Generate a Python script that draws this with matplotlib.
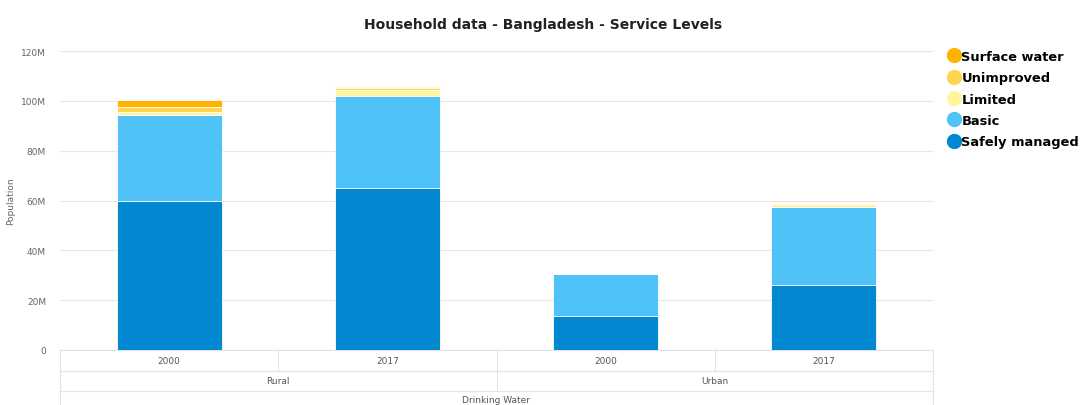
import matplotlib.pyplot as plt
from matplotlib.lines import Line2D

# data (millions of people)
categories = ['2000', '2017', '2000', '2017']
areas = ['Rural', 'Urban']
levels = ['Safely managed', 'Basic', 'Limited', 'Unimproved', 'Surface water']
safely_managed = [59.8, 64.9, 13.5, 26.1]
basic = [34.6, 37.0, 17.0, 31.3]
limited = [1.2, 2.5, 0.0, 1.2]
unimproved = [2.0, 0.8, 0.0, 0.1]
surface_water = [2.6, 0.3, 0.0, 0.0]
colors = ['#0288d1', '#4fc3f7', '#fff59d', '#ffd54f', '#ffb300']

series = [safely_managed, basic, limited, unimproved, surface_water]

fig = plt.figure(figsize=(10.87, 4.06), dpi=100)
ax = fig.add_axes([60 / 1087, 55 / 406, 873 / 1087, 299 / 406])

x = list(range(len(categories)))
bottom = [0.0] * len(categories)
for vals, col in zip(series, colors):
    ax.bar(x, vals, bottom=bottom, width=0.48, color=col, edgecolor='white',
           linewidth=0.6, zorder=3)
    bottom = [b + v for b, v in zip(bottom, vals)]

ax.set_xlim(-0.5, 3.5)
ax.set_ylim(0, 120)
ax.set_yticks([0, 20, 40, 60, 80, 100, 120])
ax.set_yticklabels(['0', '20M', '40M', '60M', '80M', '100M', '120M'],
                   fontsize=6.5, color='#666666')
ax.tick_params(axis='y', length=0, pad=10)
ax.set_xticks([])
ax.grid(axis='y', color='#e6e6e6', linewidth=0.8, zorder=0)
for s in ax.spines.values():
    s.set_visible(False)
ax.set_ylabel('Population', fontsize=6.5, color='#666666')
ax.yaxis.set_label_coords(-45 / 873, 0.5)

# category table below the plot
tr = ax.get_xaxis_transform()
lc = '#dde3f0'
r1, r2, r3 = -0.0702, -0.137, -0.19
for yy in [0, r1, r2]:
    ax.plot([-0.5, 3.5], [yy, yy], transform=tr, color=lc, lw=0.8, clip_on=False)
for xx in [-0.5, 0.5, 1.5, 2.5, 3.5]:
    ax.plot([xx, xx], [0, r1], transform=tr, color=lc, lw=0.8, clip_on=False)
for xx in [-0.5, 1.5, 3.5]:
    ax.plot([xx, xx], [r1, r2], transform=tr, color=lc, lw=0.8, clip_on=False)
for xx in [-0.5, 3.5]:
    ax.plot([xx, xx], [r2, r3], transform=tr, color=lc, lw=0.8, clip_on=False)
for i, c in enumerate(categories):
    ax.text(i, r1 / 2, c, transform=tr, ha='center', va='center',
            fontsize=6.5, color='#555555')
for j, a in enumerate(areas):
    ax.text(2 * j + 0.5, (r1 + r2) / 2, a, transform=tr, ha='center',
            va='center', fontsize=6.5, color='#555555')
ax.text(1.5, -0.165, 'Drinking Water', transform=tr, ha='center',
        va='center', fontsize=6.5, color='#555555')

fig.text(543 / 1087, 1 - 25 / 406, 'Household data - Bangladesh - Service Levels',
         ha='center', va='center', fontsize=10, fontweight='bold', color='#222222')

handles = [Line2D([], [], marker='o', linestyle='none', markersize=10,
                  markerfacecolor=c, markeredgecolor=c) for c in colors[::-1]]
fig.legend(handles, levels[::-1], loc='upper left',
           bbox_to_anchor=(947 / 1087, 1 - 51 / 406), frameon=False,
           prop={'weight': 'bold', 'size': 9.4}, handletextpad=0.1,
           labelspacing=0.64, handlelength=1.0, borderaxespad=0, borderpad=0)

plt.savefig('out.png', dpi=100)
